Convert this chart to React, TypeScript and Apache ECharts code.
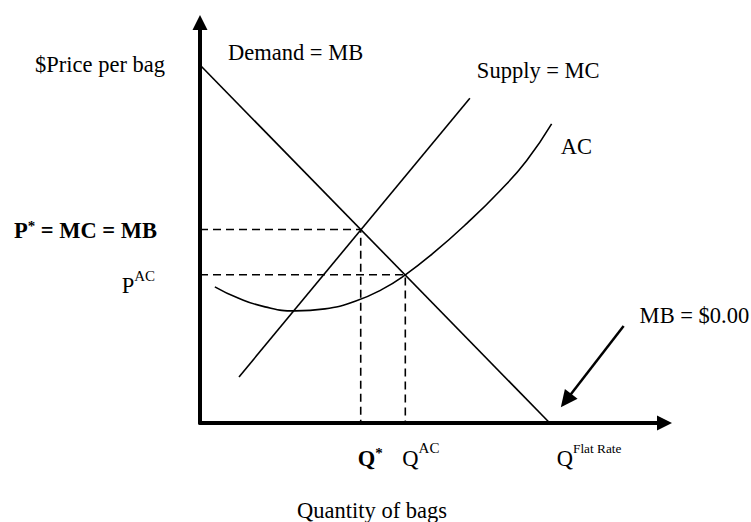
import React, { useEffect, useRef } from "react";
import * as echarts from "echarts";

// Curves (quantity of bags on x, price per bag on y; both on a 0–100 scale)
const demand: number[][] = [[0, 89.4], [75.3, 0]];
const supply: number[][] = [[8.4, 11.5], [58.1, 81.1]];
const averageCost: number[][] = [
  [3.2, 34.0], [8.2, 31.2], [14.0, 29.0], [20.5, 28.0], [26.9, 28.5],
  [33.4, 30.4], [39.1, 33.3], [44.2, 37.0], [50.2, 42.4], [57.4, 49.8],
  [64.6, 58.0], [70.3, 65.5], [75.7, 74.7],
];
// Key points
const qStar = 34.6;
const pStar = 48.3;
const qAC = 44.2;
const pAC = 37.0;
const qFlatRate = 75.3;
// Annotation arrow pointing to MB = $0.00
const mbArrow: number[][] = [[91.2, 24.2], [78.8, 5.6]];

// Texts
const yTitle = "$Price per bag";
const xTitle = "Quantity of bags";
const demandLabel = "Demand = MB";
const supplyLabel = "Supply = MC";
const acLabel = "AC";
const mbLabel = "MB = $0.00";

export default function App() {
  const ref = useRef<HTMLDivElement>(null);
  useEffect(() => {
    const chart = echarts.init(ref.current!, null, { renderer: "svg" });
    const font = '"Liberation Serif", "Times New Roman", serif';
    const black = "#000";
    const thin = { color: black, width: 1.6 };
    const dashed = { color: black, width: 1.6, type: [8, 5] as any };
    const axisCommon = {
      type: "value",
      min: 0,
      max: 100,
      splitLine: { show: false },
      axisTick: { show: false },
      axisLabel: { show: false },
      axisLine: {
        show: true,
        onZero: false,
        symbol: ["none", "triangle"],
        symbolSize: [15, 15],
        lineStyle: { color: black, width: 4 },
      },
    };
    chart.setOption({
      animation: false,
      backgroundColor: "#fff",
      grid: { left: 200, right: 86.5, top: 22.5, bottom: 99, containLabel: false, outerBoundsMode: "none" },
      xAxis: axisCommon,
      yAxis: axisCommon,
      series: [
        {
          type: "line",
          name: demandLabel,
          data: demand,
          symbol: "none",
          lineStyle: thin,
          silent: true,
          markLine: {
            silent: true,
            symbol: ["none", "triangle"],
            symbolSize: [16, 17],
            label: { show: false },
            lineStyle: { color: black, width: 2.5, type: "solid" },
            data: [[{ coord: mbArrow[0] }, { coord: mbArrow[1] }]],
          },
        },
        { type: "line", name: supplyLabel, data: supply, symbol: "none", lineStyle: thin, silent: true },
        { type: "line", name: acLabel, data: averageCost, symbol: "none", smooth: 0.5, lineStyle: thin, silent: true },
        {
          type: "line",
          name: "P*",
          data: [[0, pStar], [qStar, pStar], [qStar, 0]],
          symbol: "none",
          lineStyle: dashed,
          silent: true,
        },
        {
          type: "line",
          name: "PAC",
          data: [[0, pAC], [qAC, pAC], [qAC, 0]],
          symbol: "none",
          lineStyle: dashed,
          silent: true,
        },
      ],
    });

    const px = (x: number, y: number) => chart.convertToPixel({ gridIndex: 0 }, [x, y]) as number[];
    const origin = px(0, 0);
    const ps = px(0, pStar);
    const pa = px(0, pAC);
    const qs = px(qStar, 0);
    const qa = px(qAC, 0);
    const qf = px(qFlatRate, 0);
    const dTop = px(demand[0][0], demand[0][1]);
    const sEnd = px(supply[1][0], supply[1][1]);
    const aEnd = px(averageCost[averageCost.length - 1][0], averageCost[averageCost.length - 1][1]);
    const arrowStart = px(mbArrow[0][0], mbArrow[0][1]);

    const base = { fontFamily: font, fontSize: 22.5, fill: black };
    const mainTok = (bold: boolean) => ({
      fontFamily: font, fontSize: 22.5, fontWeight: bold ? "bold" : "normal",
      lineHeight: 31, height: 31, verticalAlign: "middle", fill: black,
    });
    const supTok = (size: number, bold: boolean, h: number) => ({
      fontFamily: font, fontSize: size, fontWeight: bold ? "bold" : "normal",
      lineHeight: h, height: h, verticalAlign: "top", fill: black,
    });
    const rich = {
      m: mainTok(false),
      b: mainTok(true),
      s: supTok(15, false, 11),
      bs: supTok(15, true, 21),
      f: supTok(13.3, false, 11),
    };

    chart.setOption({
      graphic: [
        { type: "text", x: origin[0] - 35, y: dTop[1], style: { ...base, text: yTitle, align: "right", verticalAlign: "middle" } },
        { type: "text", x: origin[0] + 28, y: dTop[1] - 12, style: { ...base, text: demandLabel, align: "left", verticalAlign: "middle" } },
        { type: "text", x: sEnd[0] + 7, y: sEnd[1] - 28, style: { ...base, text: supplyLabel, align: "left", verticalAlign: "middle" } },
        { type: "text", x: aEnd[0] + 9, y: aEnd[1] + 23, style: { ...base, text: acLabel, align: "left", verticalAlign: "middle" } },
        { type: "text", x: arrowStart[0] + 16, y: arrowStart[1] - 11, style: { ...base, text: mbLabel, align: "left", verticalAlign: "middle" } },
        { type: "text", x: origin[0] + 172, y: origin[1] + 87, style: { ...base, text: xTitle, align: "center", verticalAlign: "middle" } },
        { type: "text", x: ps[0] - 43, y: ps[1] + 1, style: { text: "{b|P}{bs|*}{b| = MC = MB}", rich, align: "right", verticalAlign: "middle" } },
        { type: "text", x: pa[0] - 45, y: pa[1] + 11, style: { text: "{m|P}{s|AC}", rich, align: "right", verticalAlign: "middle" } },
        { type: "text", x: qs[0] - 3, y: qs[1] + 35, style: { text: "{b|Q}{bs|*}", rich, align: "left", verticalAlign: "middle" } },
        { type: "text", x: qa[0] - 3, y: qa[1] + 35, style: { text: "{m|Q}{s|AC}", rich, align: "left", verticalAlign: "middle" } },
        { type: "text", x: qf[0] + 7, y: qf[1] + 35, style: { text: "{m|Q}{f|Flat Rate}", rich, align: "left", verticalAlign: "middle" } },
      ],
    });

    return () => chart.dispose();
  }, []);
  return (
    <div
      ref={ref}
      style={{ position: "absolute", left: 0, top: 0, width: 751, height: 522 }}
    />
  );
}
